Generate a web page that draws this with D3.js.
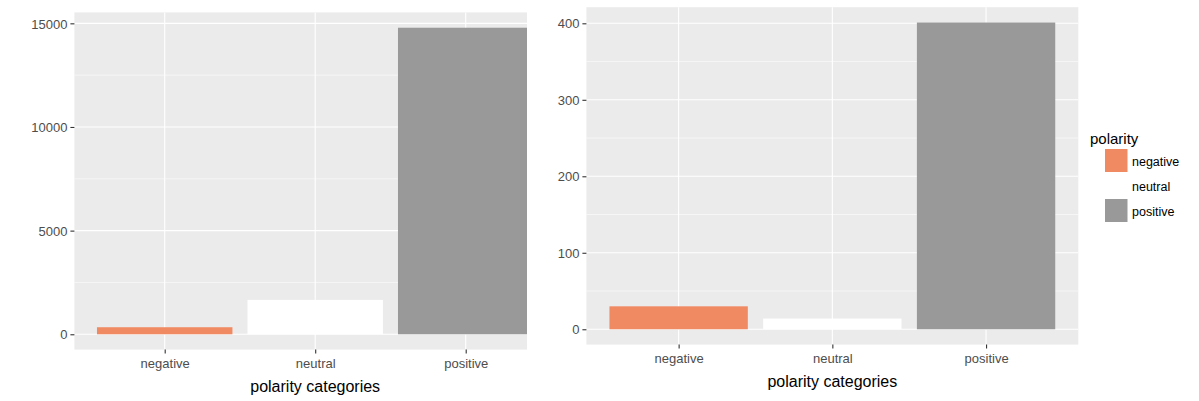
<!DOCTYPE html>
<html>
<head>
<meta charset="utf-8">
<script src="https://cdn.jsdelivr.net/npm/d3@7"></script>
<style>
  body { margin: 0; background: #fff; }
  text { font-family: "Liberation Sans", Arial, sans-serif; }
</style>
</head>
<body>
<div id="chart"></div>
<script>
// polarity counts
var categories = ["negative", "neutral", "positive"];
var countsAll = [340, 1660, 14788];
var countsSub = [30, 14, 401];
var ticksAll = [0, 5000, 10000, 15000];
var ticksSub = [0, 100, 200, 300, 400];
var fills = ["#F08A63", "#FFFFFF", "#999999"];

var svg = d3.select("#chart").append("svg")
    .attr("width", 1199)
    .attr("height", 401);

svg.append("defs").append("clipPath")
    .attr("id", "leftClip")
    .append("rect")
    .attr("x", 0).attr("y", 0)
    .attr("width", 527).attr("height", 401);

function drawPanel(g, values, ticks, box) {
    var max = d3.max(values);

    var x = d3.scalePoint()
        .domain(categories)
        .range([box.left, box.right])
        .padding(0.6);

    var y = d3.scaleLinear()
        .domain([-0.05 * max, 1.05 * max])
        .range([box.bottom, box.top]);

    var step = x.step();
    var minor = d3.range(ticks.length - 1).map(function(i) {
        return (ticks[i] + ticks[i + 1]) / 2;
    });

    // panel background
    g.append("rect")
        .attr("x", box.left)
        .attr("y", box.top)
        .attr("width", box.right - box.left)
        .attr("height", box.bottom - box.top)
        .attr("fill", "#EBEBEB");

    // minor grid
    g.selectAll(".minor")
        .data(minor)
        .enter().append("line")
        .attr("class", "minor")
        .attr("x1", box.left).attr("x2", box.right)
        .attr("y1", function(d) { return y(d); })
        .attr("y2", function(d) { return y(d); })
        .attr("stroke", "#fff")
        .attr("stroke-width", 0.55);

    // major grid
    g.selectAll(".hmajor")
        .data(ticks)
        .enter().append("line")
        .attr("class", "hmajor")
        .attr("x1", box.left).attr("x2", box.right)
        .attr("y1", function(d) { return y(d); })
        .attr("y2", function(d) { return y(d); })
        .attr("stroke", "#fff")
        .attr("stroke-width", 1.1);

    g.selectAll(".vmajor")
        .data(categories)
        .enter().append("line")
        .attr("class", "vmajor")
        .attr("y1", box.top).attr("y2", box.bottom)
        .attr("x1", function(d) { return x(d); })
        .attr("x2", function(d) { return x(d); })
        .attr("stroke", "#fff")
        .attr("stroke-width", 1.1);

    // bars
    g.selectAll(".bar")
        .data(values)
        .enter().append("rect")
        .attr("class", "bar")
        .attr("x", function(d, i) { return x(categories[i]) - 0.45 * step; })
        .attr("width", 0.9 * step)
        .attr("y", function(d) { return y(d); })
        .attr("height", function(d) { return y(0) - y(d); })
        .attr("fill", function(d, i) { return fills[i]; });

    // y axis
    var yAxis = d3.axisLeft(y)
        .tickValues(ticks)
        .tickSize(4)
        .tickPadding(3)
        .tickFormat(d3.format("d"));

    var ya = g.append("g")
        .attr("transform", "translate(" + box.left + ",0)")
        .call(yAxis);
    ya.select(".domain").remove();
    ya.selectAll("line").attr("stroke", "#333333").attr("stroke-width", 1.1);
    ya.selectAll("text")
        .attr("fill", "#4D4D4D")
        .attr("font-size", "13px")
        .attr("dy", "0.36em");

    // x axis
    var xAxis = d3.axisBottom(x)
        .tickSize(4)
        .tickPadding(4);

    var xa = g.append("g")
        .attr("transform", "translate(0," + box.bottom + ")")
        .call(xAxis);
    xa.select(".domain").remove();
    xa.selectAll("line").attr("stroke", "#333333").attr("stroke-width", 1.1);
    xa.selectAll("text")
        .attr("fill", "#4D4D4D")
        .attr("font-size", "13px")
        .attr("dy", "0.8em");

    // axis title
    g.append("text")
        .attr("x", (box.left + box.right) / 2)
        .attr("y", box.bottom + 42)
        .attr("text-anchor", "middle")
        .attr("font-size", "16px")
        .attr("fill", "#000")
        .text("polarity categories");
}

var left = svg.append("g").attr("clip-path", "url(#leftClip)");
drawPanel(left, countsAll, ticksAll, { left: 74.4, right: 556, top: 12.4, bottom: 349.6 });

var right = svg.append("g");
drawPanel(right, countsSub, ticksSub, { left: 586.4, right: 1078.3, top: 7.2, bottom: 344.6 });

// legend
var legend = svg.append("g");
legend.append("text")
    .attr("x", 1090)
    .attr("y", 144)
    .attr("font-size", "15px")
    .attr("fill", "#000")
    .text("polarity");

var items = legend.selectAll(".item")
    .data(categories)
    .enter().append("g")
    .attr("class", "item")
    .attr("transform", function(d, i) { return "translate(1105," + (149 + i * 25) + ")"; });

items.append("rect")
    .attr("width", 22.5)
    .attr("height", 23)
    .attr("fill", function(d, i) { return fills[i]; });

items.append("text")
    .attr("x", 27)
    .attr("y", 16.5)
    .attr("font-size", "12.5px")
    .attr("fill", "#000")
    .text(function(d) { return d; });
</script>
</body>
</html>
